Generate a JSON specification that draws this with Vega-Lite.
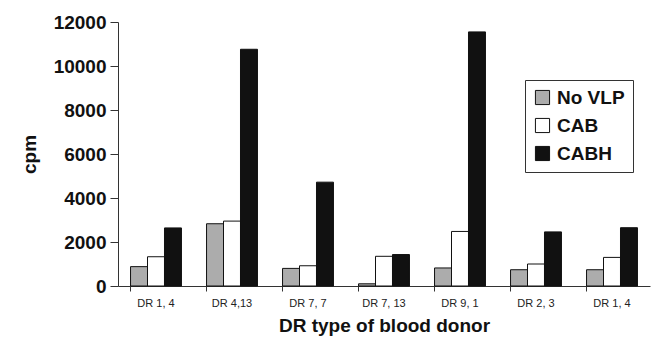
{
  "$schema": "https://vega.github.io/schema/vega-lite/v6.json",
  "width": 532,
  "height": 264,
  "autosize": {"type": "none"},
  "padding": {"left": 118, "top": 22, "right": 12, "bottom": 56},
  "background": "white",
  "config": {
    "view": {"stroke": null},
    "font": "Liberation Sans"
  },
  "data": {
    "values": [
      {"donor": "DR 1, 4", "group": "No VLP", "cpm": 880},
      {"donor": "DR 1, 4", "group": "CAB", "cpm": 1330},
      {"donor": "DR 1, 4", "group": "CABH", "cpm": 2640},
      {"donor": "DR 4,13", "group": "No VLP", "cpm": 2830},
      {"donor": "DR 4,13", "group": "CAB", "cpm": 2950},
      {"donor": "DR 4,13", "group": "CABH", "cpm": 10760},
      {"donor": "DR 7, 7", "group": "No VLP", "cpm": 800},
      {"donor": "DR 7, 7", "group": "CAB", "cpm": 920},
      {"donor": "DR 7, 7", "group": "CABH", "cpm": 4720},
      {"donor": "DR 7, 13", "group": "No VLP", "cpm": 100},
      {"donor": "DR 7, 13", "group": "CAB", "cpm": 1350},
      {"donor": "DR 7, 13", "group": "CABH", "cpm": 1430},
      {"donor": "DR 9, 1", "group": "No VLP", "cpm": 820},
      {"donor": "DR 9, 1", "group": "CAB", "cpm": 2480},
      {"donor": "DR 9, 1", "group": "CABH", "cpm": 11550},
      {"donor": "DR 2, 3", "group": "No VLP", "cpm": 740},
      {"donor": "DR 2, 3", "group": "CAB", "cpm": 1000},
      {"donor": "DR 2, 3", "group": "CABH", "cpm": 2460},
      {"donor": "DR 1, 4 ", "group": "No VLP", "cpm": 740},
      {"donor": "DR 1, 4 ", "group": "CAB", "cpm": 1300},
      {"donor": "DR 1, 4 ", "group": "CABH", "cpm": 2650}
    ]
  },
  "mark": {"type": "bar", "stroke": "#111", "strokeWidth": 1},
  "encoding": {
    "x": {
      "field": "donor",
      "type": "nominal",
      "sort": null,
      "scale": {"paddingInner": 0.33, "paddingOuter": 0.165},
      "axis": {
        "title": "DR type of blood donor",
        "titleFontSize": 19,
        "titleFontWeight": "bold",
        "titleColor": "#111",
        "titlePadding": 8,
        "labelAngle": 0,
        "labelFontSize": 11,
        "labelColor": "#222",
        "labelPadding": 6,
        "bandPosition": 0,
        "ticks": true,
        "tickSize": 5,
        "tickColor": "#333",
        "domainColor": "#333"
      }
    },
    "xOffset": {"field": "group", "type": "nominal", "sort": ["No VLP", "CAB", "CABH"]},
    "y": {
      "field": "cpm",
      "type": "quantitative",
      "scale": {"domain": [0, 12000]},
      "axis": {
        "title": "cpm",
        "titleFontSize": 19,
        "titleFontWeight": "bold",
        "titleColor": "#111",
        "titlePadding": 14,
        "values": [0, 2000, 4000, 6000, 8000, 10000, 12000],
        "format": "d",
        "labelFontSize": 19,
        "labelFontWeight": "bold",
        "labelColor": "#111",
        "labelPadding": 4,
        "tickSize": 8,
        "tickColor": "#333",
        "domainColor": "#333",
        "grid": false
      }
    },
    "fill": {
      "field": "group",
      "type": "nominal",
      "sort": ["No VLP", "CAB", "CABH"],
      "scale": {"domain": ["No VLP", "CAB", "CABH"], "range": ["#acacac", "#ffffff", "#111111"]},
      "legend": {
        "title": null,
        "orient": "none",
        "legendX": 407,
        "legendY": 58,
        "padding": 8,
        "strokeColor": "#333",
        "symbolType": "square",
        "symbolSize": 200,
        "symbolStrokeColor": "#111",
        "symbolStrokeWidth": 1,
        "labelFontSize": 19,
        "labelFontWeight": "bold",
        "labelColor": "#111",
        "rowPadding": 8,
        "labelOffset": 5
      }
    }
  }
}
